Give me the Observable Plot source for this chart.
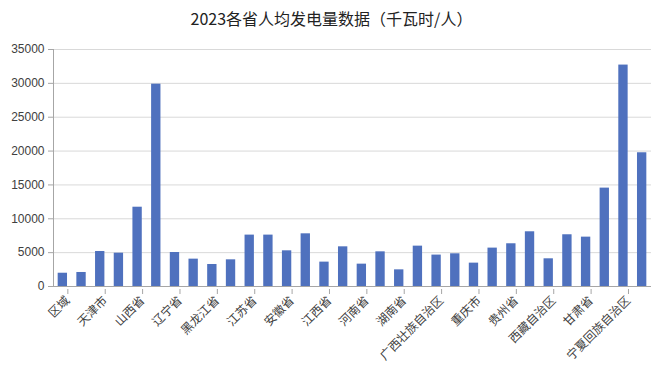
<!DOCTYPE html>
<html>
<head>
<meta charset="utf-8">
<script src="https://cdn.jsdelivr.net/npm/d3@7"></script>
<script src="https://cdn.jsdelivr.net/npm/@observablehq/plot@0.6"></script>
<style>
  body { margin: 0; background: #fff; font-family: "Liberation Sans", "Noto Sans CJK SC", sans-serif; }
  #title { height: 32px; line-height: 36px; text-align: center; font-size: 16px; color: #222; font-family: "Noto Sans CJK SC", sans-serif; }
</style>
</head>
<body>
<div id="title">2023各省人均发电量数据（千瓦时/人）</div>
<div id="chart"></div>
<script>
const regions = ["区域","北京市","天津市","河北省","山西省","内蒙古自治区","辽宁省","吉林省","黑龙江省","上海市","江苏省","浙江省","安徽省","福建省","江西省","山东省","河南省","湖北省","湖南省","广东省","广西壮族自治区","海南省","重庆市","四川省","贵州省","云南省","西藏自治区","陕西省","甘肃省","青海省","宁夏回族自治区","新疆维吾尔自治区"];
const values = [1960,2070,5170,4920,11710,29880,5020,4040,3250,3940,7590,7590,5270,7780,3600,5860,3300,5120,2460,5960,4640,4830,3450,5670,6310,8080,4090,7640,7290,14530,32700,19750];
const yTicks = [0,5000,10000,15000,20000,25000,30000,35000];
const labeledRegions = regions.filter((d, i) => i % 2 === 0);

const data = regions.map((r, i) => ({region: r, value: values[i]}));

const chart = Plot.plot({
  width: 663,
  height: 350,
  marginTop: 17,
  marginBottom: 96,
  marginLeft: 53,
  marginRight: 12,
  style: {fontFamily: "'Liberation Sans', 'Noto Sans CJK SC', sans-serif", background: "#fff"},
  x: {domain: regions, paddingInner: 0.5, paddingOuter: 0.25, round: false, label: null},
  y: {domain: [0, 35000], label: null},
  marks: [
    Plot.gridY(yTicks, {stroke: "#d9d9d9", strokeOpacity: 1}),
    Plot.barY(data, {x: "region", y: "value", fill: "#4f71be"}),
    Plot.frame({anchor: "left", stroke: "#a6a6a6"}),
    Plot.ruleY([0], {stroke: "#a6a6a6"}),
    Plot.axisY({ticks: yTicks, tickFormat: d3.format("d"), tickSize: 5, tickPadding: 4, fontSize: 12, stroke: "#a6a6a6", color: "#404040", label: null}),
    Plot.axisX({ticks: labeledRegions, tickSize: 5, tickRotate: -45, tickPadding: 4, dx: 5, dy: 3, fontSize: 12, stroke: "#a6a6a6", color: "#404040", fontFamily: "'Noto Sans CJK SC', sans-serif", label: null})
  ]
});
document.getElementById("chart").appendChild(chart);
</script>
</body>
</html>
